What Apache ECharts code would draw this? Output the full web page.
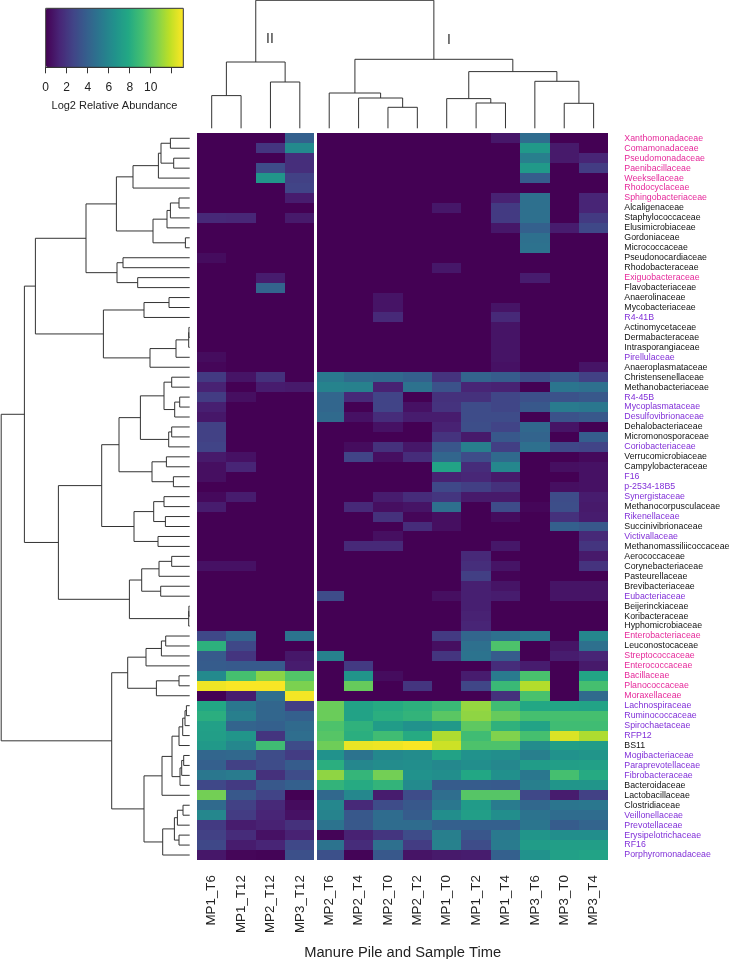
<!DOCTYPE html>
<html>
<head>
<meta charset="utf-8">
<script src="https://cdn.jsdelivr.net/npm/echarts@6/dist/echarts.min.js"></script>
<style>
html, body { margin: 0; padding: 0; background: #fff; }
#main { width: 730px; height: 959px; }
</style>
</head>
<body>
<div id="main"></div>
<script>
var samples = ['MP1_T6','MP1_T12','MP2_T12','MP3_T12','MP2_T6','MP2_T4','MP2_T0','MP2_T2','MP1_T0','MP1_T2','MP1_T4','MP3_T6','MP3_T0','MP3_T4'];

var families = ['Xanthomonadaceae','Comamonadaceae','Pseudomonadaceae','Paenibacillaceae','Weeksellaceae','Rhodocyclaceae','Sphingobacteriaceae','Alcaligenaceae','Staphylococcaceae','Elusimicrobiaceae','Gordoniaceae','Micrococcaceae','Pseudonocardiaceae','Rhodobacteraceae','Exiguobacteraceae','Flavobacteriaceae','Anaerolinaceae','Mycobacteriaceae','R4-41B','Actinomycetaceae','Dermabacteraceae','Intrasporangiaceae','Pirellulaceae','Anaeroplasmataceae','Christensenellaceae','Methanobacteriaceae','R4-45B','Mycoplasmataceae','Desulfovibrionaceae','Dehalobacteriaceae','Micromonosporaceae','Coriobacteriaceae','Verrucomicrobiaceae','Campylobacteraceae','F16','p-2534-18B5','Synergistaceae','Methanocorpusculaceae','Rikenellaceae','Succinivibrionaceae','Victivallaceae','Methanomassiliicoccaceae','Aerococcaceae','Corynebacteriaceae','Pasteurellaceae','Brevibacteriaceae','Eubacteriaceae','Beijerinckiaceae','Koribacteraceae','Hyphomicrobiaceae','Enterobacteriaceae','Leuconostocaceae','Streptococcaceae','Enterococcaceae','Bacillaceae','Planococcaceae','Moraxellaceae','Lachnospiraceae','Ruminococcaceae','Spirochaetaceae','RFP12','BS11','Mogibacteriaceae','Paraprevotellaceae','Fibrobacteraceae','Bacteroidaceae','Lactobacillaceae','Clostridiaceae','Veillonellaceae','Prevotellaceae','Erysipelotrichaceae','RF16','Porphyromonadaceae'];

var pinkFamilies = ['Xanthomonadaceae','Comamonadaceae','Pseudomonadaceae','Paenibacillaceae','Weeksellaceae','Rhodocyclaceae','Sphingobacteriaceae','Exiguobacteraceae','Enterobacteriaceae','Streptococcaceae','Enterococcaceae','Bacillaceae','Planococcaceae','Moraxellaceae'];
var violetFamilies = ['R4-41B','Pirellulaceae','R4-45B','Mycoplasmataceae','Desulfovibrionaceae','Coriobacteriaceae','F16','p-2534-18B5','Synergistaceae','Rikenellaceae','Victivallaceae','Eubacteriaceae','Lachnospiraceae','Ruminococcaceae','Spirochaetaceae','RFP12','Mogibacteriaceae','Paraprevotellaceae','Fibrobacteraceae','Veillonellaceae','Prevotellaceae','Erysipelotrichaceae','RF16','Porphyromonadaceae'];

// one row per family, one value per sample, same order as above
var abundance = [
    [0,0,0,4.0, 0,0,0,0,0,0,0.8,4.6,0,0],
    [0,0,2.0,6.2, 0,0,0,0,0,0,0,7.0,0.9,0],
    [0,0,0,1.7, 0,0,0,0,0,0,0,5.6,0.9,1.3],
    [0,0,3.0,1.7, 0,0,0,0,0,0,0,7.0,0,2.3],
    [0,0,6.8,2.5, 0,0,0,0,0,0,0,3.8,0,0],
    [0,0,0,2.6, 0,0,0,0,0,0,0,0,0,0],
    [0,0,0,1.0, 0,0,0,0,0,0,1.2,4.8,0,1.3],
    [0,0,0,0, 0,0,0,0,0.8,0,2.2,4.8,0,1.3],
    [1.5,1.4,0,0.9, 0,0,0,0,0,0,2.2,4.8,0,2.2],
    [0,0,0,0, 0,0,0,0,0,0,0.8,4.0,1.0,2.8],
    [0,0,0,0, 0,0,0,0,0,0,0,4.8,0,0],
    [0,0,0,0, 0,0,0,0,0,0,0,4.9,0,0],
    [0.4,0,0,0, 0,0,0,0,0,0,0,0,0,0],
    [0,0,0,0, 0,0,0,0,0.8,0,0,0,0,0],
    [0,0,1.0,0, 0,0,0,0,0,0,0,1.0,0,0],
    [0,0,4.2,0, 0,0,0,0,0,0,0,0,0,0],
    [0,0,0,0, 0,0,0.7,0,0,0,0,0,0,0],
    [0,0,0,0, 0,0,0.7,0,0,0,0.7,0,0,0],
    [0,0,0,0, 0,0,1.5,0,0,0,1.5,0,0,0],
    [0,0,0,0, 0,0,0,0,0,0,0.7,0,0,0],
    [0,0,0,0, 0,0,0,0,0,0,0.7,0,0,0],
    [0,0,0,0, 0,0,0,0,0,0,0.7,0,0,0],
    [0.4,0,0,0, 0,0,0,0,0,0,0.7,0,0,0],
    [0.2,0,0,0, 0,0,0,0,0,0,0.6,0,0,0.7],
    [2.2,0.7,1.8,0, 5.3,4.5,4.4,4.0,1.9,4.2,3.8,2.9,3.5,2.5],
    [1.2,0,1.0,0.9, 5.8,5.7,1.2,4.9,3.3,1.3,1.2,0,5.1,4.8],
    [2.3,0.5,0,0, 4.3,1.5,2.6,0,1.8,1.8,2.7,3.2,3.3,3.6],
    [1.1,0,0,0, 4.3,0,2.6,0.6,1.9,3.0,2.7,3.6,5.4,5.2],
    [0.8,0,0,0, 4.5,0.6,1.6,1.0,1.0,3.0,3.0,0,3.3,3.6],
    [2.5,0,0,0, 0,0,0.6,0,1.2,3.1,2.6,4.4,0.7,0],
    [2.5,0,0,0, 0,0,0,0,1.9,0.9,3.6,4.2,0,3.9],
    [2.6,0,0,0, 0,0.4,1.8,0.8,3.5,5.6,2.4,4.8,2.8,2.6],
    [0.9,0.6,0,0, 0,2.6,0.5,1.6,4.3,3.0,4.5,0,0,0.3],
    [0.5,1.3,0,0, 0,0,0,0,7.6,1.6,6.0,0,0.5,0.6],
    [0.5,0,0,0, 0,0,0,0,1.2,1.4,0.9,0,0,0.6],
    [0,0,0,0, 0,0,0,0,2.8,2.4,1.8,0,0.5,0.6],
    [0.3,1.0,0,0, 0,0,1.0,1.6,2.0,0.9,0.9,0,3.0,1.0],
    [1.0,0,0,0, 0,1.5,0.5,0.7,4.8,0,3.0,0.2,3.1,0.9],
    [0,0,0,0, 0,0,1.8,0.2,0.5,0,0.4,0,1.8,1.0],
    [0,0,0,0, 0,0,0,1.6,0.5,0,0,0,4.0,3.6],
    [0,0,0,0, 0,0,0.5,0,0,0,0,0,0,1.5],
    [0,0,0,0, 0,1.5,1.5,0,0,0,0.8,0,0,2.0],
    [0,0,0,0, 0,0,0,0,0,1.5,0,0,0,0.9],
    [0.6,0.6,0,0, 0,0,0,0,0,1.7,0.7,0,0,1.9],
    [0,0,0,0, 0,0,0,0,0,2.4,0.1,0,0,0],
    [0,0,0,0, 0,0,0,0,0,1.1,0.7,0,0.7,0.7],
    [0,0,0,0, 3.0,0,0,0,0.5,1.1,1.0,0,0.7,0.7],
    [0,0,0,0, 0,0,0,0,0,1.1,0,0,0,0],
    [0,0,0,0, 0,0,0,0,0,1.2,0,0,0,0],
    [0,0,0,0, 0,0,0,0,0,1.3,0,0,0,0],
    [2.8,4.2,0,5.0, 0,0,0,0,2.2,4.3,4.8,5.3,0,6.0],
    [8.3,2.8,0,0, 0,0,0,0,0.5,4.8,9.4,0,0.7,4.8],
    [3.7,2.0,0,0.8, 5.7,0,0,0,2.0,5.0,3.8,0,1.0,1.3],
    [3.8,3.7,3.7,1.0, 0,2.2,0,0,0,0,1.6,1.0,0,0.9],
    [6.2,9.2,10.8,9.5, 0,6.8,0.4,0,0,1.0,5.4,9.3,0,7.7],
    [12.8,13,13,10.5, 0,10,0,2.0,0,2.7,8.8,11.6,0,9.2],
    [0,1.0,4.7,12.9, 0,0,0,0,0,0,1.8,9.3,0,4.5],
    [7.8,5.2,4.3,2.4, 10.1,7.5,8.0,8.3,8.8,11,9,7.8,7.7,7.6],
    [8.2,5.6,4.3,4.0, 10.1,7.5,8.2,8.5,9.7,10.9,10,9.2,9.2,9.2],
    [7.4,4.2,4.0,4.5, 9.4,8.4,7.2,6.6,7,9.8,8.4,7.6,9,9],
    [7.3,6.8,2.0,4.7, 9.6,8.2,9,8,11.5,9,10.6,9.2,12.4,11.5],
    [7,6,9,3, 10.2,12.7,12.8,13,12.1,9.4,9.4,6.3,7.3,7.2],
    [4.3,4.4,3,2.3, 6.6,5,6.1,6.3,7.5,6.6,6.4,5.6,6.6,6.8],
    [4,2.5,3,3.8, 8.2,6,6.3,6.4,6.1,6.4,6,7.2,7.3,7.4],
    [5.2,5.4,1.8,3, 10.9,8.6,10.3,6.6,6.4,7.8,6.5,5.2,9.2,8],
    [2.8,2.2,3.6,4, 8.5,8,8.5,6.2,3.8,3.8,3.7,5.6,6.8,6.8],
    [10.3,3.6,2.6,0, 4.4,6,1,3,4.7,9.6,9.6,2.8,1,2.5],
    [4.5,2.5,1.5,0.4, 6,1.5,3,3.6,5.2,7.1,5.4,4.4,5.1,5.2],
    [6,2.3,1.3,0.6, 5.8,3.6,4.6,3.8,6.4,7.3,6.4,5,4.6,4.6],
    [2.2,1,1.2,1.8, 5,3.6,4.6,4.6,4,4,4,5.1,3.8,4.2],
    [2.5,1.6,0.6,1.2, 0.1,1.2,2,3,5.6,3.5,5.3,6.8,6.4,6.4],
    [2.8,1,1.3,2.8, 5,1.6,4.8,2.3,5.7,3,5.4,7.2,7.3,7.3],
    [0.8,0.2,0.1,3.2, 3.2,0.1,3.6,0.7,0.9,1,4,6.6,7.4,7.6]
];

// dendrograms: [height, left, right], a plain number is a leaf (row or column index)
var rowTree = [188.5,
    [165.3,
        [154.3,
            [103.7,
                [73.3,
                    [56.7, [31.3, [28.7, [19.3, 0, 1], [16, 2, 3]], 4], 5],
                    [36.7, [22.7, [19.3, [10.7, 6, 7], 8], 9], [4.3, 10, 11]]
                ],
                [72.7, [66.7, 12, 13], [52, 14, 15]]
            ],
            [86.3,
                [45.7, [20.7, 16, 17], 18],
                [39.7, [13.7, [1, [0.8, 19, 20], 21], 22], 23]
            ]
        ],
        [131.3,
            [88,
                [70.7,
                    [49.3,
                        [25.7, [18, 24, 25], [15, [10, 26, 27], 28]],
                        [21, [18, 29, 30], 31]
                    ],
                    [37.7, [23.3, 32, 33], [16.3, 34, 35]]
                ],
                [55.7,
                    [36, [25.7, 36, 37], [24.3, 38, 39]],
                    [31.7, 40, 41]
                ]
            ],
            [60.3,
                [48, [30.7, [18, 42, 43], 44], [29, 45, 46]],
                [1, [0.8, 47, 48], 49]
            ]
        ]
    ],
    [78,
        [62,
            [43.7, [28.3, [24, 50, 51], 52], 53],
            [33.3, [10.7, 54, 55], 56]
        ],
        [45.7,
            [27.7,
                [17.7,
                    [10.7, [7, [4.7, [3.3, 57, 58], 59], 60], 61],
                    [9.7, [8, [6, 62, 63], 64], 65]
                ],
                66
            ],
            [27,
                [15.3, [12.3, [6.7, 67, 68], 69], [10.7, 70, 71]],
                72
            ]
        ]
    ]
];

var colTree = [128,
    [66.3, [32.7, 0, 1], [46.3, 2, 3]],
    [69,
        [35.3, 4, [30.3, 5, [21, 6, 7]]],
        [56.7,
            [29.7, 8, [25.3, 9, 10]],
            [47, 11, [25, 12, 13]]
        ]
    ]
];

var colorbarTicks = [0, 2, 4, 6, 8, 10, 12];
var colorbarLabels = [0, 2, 4, 6, 8, 10];
var viridis = ['#440154','#482576','#414487','#355f8d','#2a788e','#21918c','#22a884','#44bf70','#7ad151','#bddf26','#fde725'];

var heatData = [];
abundance.forEach(function (row, r) {
    row.forEach(function (v, c) {
        heatData.push([c, r, v]);
    });
});

// each merge becomes [posA, hA, posB, hB, h]
function treeSegments(node, out) {
    if (typeof node === 'number') {
        return { pos: node + 0.5, h: 0 };
    }
    var a = treeSegments(node[1], out);
    var b = treeSegments(node[2], out);
    out.push([a.pos, a.h, b.pos, b.h, node[0]]);
    return { pos: (a.pos + b.pos) / 2, h: node[0] };
}

var rowSegments = [];
treeSegments(rowTree, rowSegments);
var colSegments = [];
treeSegments(colTree, colSegments);

var lineStyle = { stroke: '#333', fill: 'none', lineWidth: 1 };

// cells snap to whole pixels, otherwise thin seams show between them
function renderCell(params, api) {
    var c = api.coord([api.value(0), api.value(1)]);
    var s = api.size([1, 1]);
    var x0 = Math.round(c[0] - s[0] / 2);
    var x1 = Math.round(c[0] + s[0] / 2);
    var y0 = Math.round(c[1] - s[1] / 2);
    var y1 = Math.round(c[1] + s[1] / 2);
    return {
        type: 'rect',
        shape: { x: x0, y: y0, width: x1 - x0, height: y1 - y0 },
        style: { fill: api.visual('color') }
    };
}

function renderRowTree(params, api) {
    var p = [
        api.coord([api.value(1), api.value(0)]),
        api.coord([api.value(4), api.value(0)]),
        api.coord([api.value(4), api.value(2)]),
        api.coord([api.value(3), api.value(2)])
    ];
    return { type: 'polyline', shape: { points: p }, style: lineStyle };
}

function renderColTree(params, api) {
    var p = [
        api.coord([api.value(0), api.value(1)]),
        api.coord([api.value(0), api.value(4)]),
        api.coord([api.value(2), api.value(4)]),
        api.coord([api.value(2), api.value(3)])
    ];
    return { type: 'polyline', shape: { points: p }, style: lineStyle };
}

var myChart = echarts.init(document.getElementById('main'));

var font = 'Liberation Sans';

var option = {
    animation: false,
    backgroundColor: '#fff',
    textStyle: { fontFamily: font },
    grid: [
        { left: 197, top: 133.3, width: 411.3, height: 726.7, outerBoundsMode: 'none' },
        { left: 0, top: 133.3, width: 189.7, height: 726.7, outerBoundsMode: 'none' },
        { left: 197, top: 0, width: 411.3, height: 128.3, outerBoundsMode: 'none' },
        { left: 45.7, top: 8.3, width: 137.6, height: 59, outerBoundsMode: 'none', show: true, borderColor: '#333', borderWidth: 1, backgroundColor: 'transparent', z: 10 }
    ],
    xAxis: [
        {
            type: 'category', gridIndex: 0, data: samples,
            axisLine: { show: false }, axisTick: { show: false },
            axisLabel: { interval: 0, rotate: 90, margin: 15, fontSize: 13.4, color: '#222', fontFamily: font, padding: [0, 0, 5, 0] },
            name: 'Manure Pile and Sample Time', nameLocation: 'middle', nameGap: 85,
            nameTextStyle: { fontSize: 14.7, color: '#222', fontFamily: font }
        },
        { type: 'value', gridIndex: 1, min: 0, max: 189.7, inverse: true, show: false },
        { type: 'value', gridIndex: 2, min: 0, max: 14, show: false },
        {
            type: 'value', gridIndex: 3, min: 0, max: 13.1, splitLine: { show: false },
            axisLine: { show: true, onZero: false, lineStyle: { color: '#333' } },
            axisTick: { show: true, length: 6, customValues: colorbarTicks, lineStyle: { color: '#333' } },
            axisLabel: { customValues: colorbarLabels, margin: 14, fontSize: 12, color: '#222', fontFamily: font },
            name: 'Log2 Relative Abundance', nameLocation: 'middle', nameGap: 33,
            nameTextStyle: { fontSize: 11, color: '#222', fontFamily: font }
        }
    ],
    yAxis: [
        {
            type: 'category', gridIndex: 0, data: families, inverse: true, position: 'right',
            axisLine: { show: false }, axisTick: { show: false },
            axisLabel: {
                interval: 0, margin: 16, fontSize: 8.8, fontFamily: font,
                color: function (value) {
                    if (pinkFamilies.indexOf(value) >= 0) return '#e6289a';
                    if (violetFamilies.indexOf(value) >= 0) return '#8130d8';
                    return '#111';
                }
            }
        },
        { type: 'value', gridIndex: 1, min: 0, max: 73, inverse: true, show: false },
        { type: 'value', gridIndex: 2, min: 0, max: 128.3, show: false },
        { type: 'value', gridIndex: 3, min: 0, max: 1, show: false }
    ],
    visualMap: {
        type: 'continuous', seriesIndex: 0, dimension: 2, min: 0, max: 13.1,
        orient: 'horizontal', left: 45.7, top: 8.3, padding: 0,
        itemWidth: 59, itemHeight: 137.6, calculable: false, showLabel: false,
        inRange: { color: viridis }
    },
    series: [
        {
            type: 'custom', xAxisIndex: 0, yAxisIndex: 0, data: heatData,
            renderItem: renderCell, silent: true, encode: { x: 0, y: 1 }
        },
        {
            type: 'custom', xAxisIndex: 1, yAxisIndex: 1, data: rowSegments,
            renderItem: renderRowTree, silent: true, encode: { x: 4, y: 0 }
        },
        {
            type: 'custom', xAxisIndex: 2, yAxisIndex: 2, data: colSegments,
            renderItem: renderColTree, silent: true, encode: { x: 0, y: 4 }
        }
    ],
    graphic: [
        { type: 'rect', left: 314, top: 132, shape: { width: 3, height: 729 }, style: { fill: '#fff' }, z: 20, silent: true },
        { type: 'text', left: 266, top: 32, style: { text: 'II', fontSize: 14, fill: '#333', fontFamily: font } },
        { type: 'text', left: 447, top: 33, style: { text: 'I', fontSize: 14, fill: '#333', fontFamily: font } }
    ]
};
myChart.setOption(option);
</script>
</body>
</html>
